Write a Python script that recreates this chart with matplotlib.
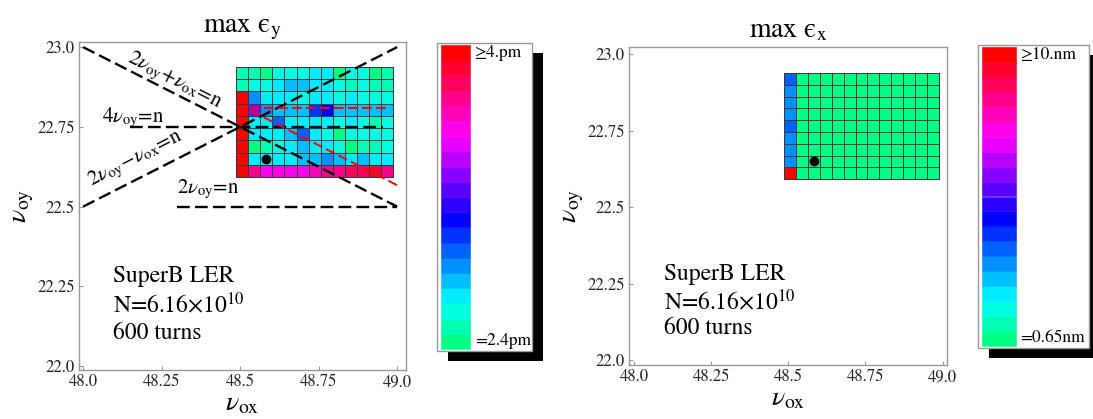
import numpy as np
import matplotlib
matplotlib.use("Agg")
import matplotlib.pyplot as plt
import matplotlib.colors as mcolors
import matplotlib.patches as mpatches

plt.rcParams['font.family'] = ['STIXGeneral', 'DejaVu Serif']
plt.rcParams['mathtext.fontset'] = 'stix'

# tune scan grid (cell centres)
nux = [48.505, 48.544, 48.583, 48.622, 48.66, 48.699, 48.737,
       48.776, 48.814, 48.853, 48.891, 48.93, 48.968]
nuy = [22.919, 22.881, 22.842, 22.804, 22.765, 22.727, 22.688, 22.65, 22.611]

# colour level (0 = lowest bin, 19 = saturated) per cell, rows from top
eps_y_level = [
    [1, 1, 0, 2, 2, 2, 3, 3, 0, 2, 2, 0, 1],
    [1, 2, 2, 3, 4, 4, 3, 3, 2, 1, 2, 1, 1],
    [19, 5, 3, 3, 3, 2, 3, 3, 2, 3, 2, 2, 2],
    [19, 11, 5, 4, 4, 4, 7, 8, 4, 4, 4, 4, 4],
    [19, 3, 3, 6, 3, 3, 3, 3, 2, 3, 2, 1, 2],
    [19, 3, 3, 3, 4, 6, 3, 2, 0, 2, 2, 2, 2],
    [19, 0, 1, 2, 3, 4, 3, 3, 2, 0, 1, 1, 2],
    [19, 3, 3, 3, 3, 4, 4, 5, 4, 3, 4, 3, 3],
    [19, 16, 14, 14, 14, 14, 15, 16, 16, 17, 17, 18, 16],
]
eps_x_level = [
    [6] + [0] * 12,
    [5] + [0] * 12,
    [5] + [0] * 12,
    [5] + [0] * 12,
    [6] + [0] * 12,
    [5] + [0] * 12,
    [5] + [0] * 12,
    [5] + [0] * 12,
    [19] + [0] * 12,
]

work_point = (48.583, 22.65)

# resonance lines (nu_x, nu_y end points)
res_lines = {
    'sum': ([48.0, 49.0], [23.0, 22.5]),
    'diff': ([48.0, 49.0], [22.5, 23.0]),
    'fourth': ([48.15, 48.955], [22.75, 22.75]),
    'half': ([48.3, 49.0], [22.5, 22.5]),
}
red_lines = {
    'horiz': ([48.53, 48.975], [22.81, 22.81]),
    'diag': ([48.535, 49.01], [22.80, 22.562]),
}

info_lines = ['SuperB LER', r'N=6.16$\times$10$^{10}$', '600 turns']
info_y = [22.282, 22.192, 22.103]

n_levels = 20
hues = np.linspace(0.42, 1.0, n_levels)
level_colors = [mcolors.hsv_to_rgb((h, 1, 1)) for h in hues]
cmap = mcolors.ListedColormap(level_colors)
norm = mcolors.BoundaryNorm(np.arange(-0.5, n_levels + 0.5), n_levels)

W, H = 1093, 419
fig = plt.figure(figsize=(W / 100, H / 100), dpi=100)


def px_axes(x0, y0, x1, y1):
    return fig.add_axes([x0 / W, 1 - y1 / H, (x1 - x0) / W, (y1 - y0) / H])


def style_axes(ax, xlim, ylim):
    ax.set_xlim(*xlim)
    ax.set_ylim(*ylim)
    ax.set_xticks([48.0, 48.25, 48.5, 48.75, 49.0])
    ax.set_xticklabels(['48.0', '48.25', '48.5', '48.75', '49.0'])
    ax.set_yticks([22.0, 22.25, 22.5, 22.75, 23.0])
    ax.set_yticklabels(['22.0', '22.25', '22.5', '22.75', '23.0'])
    for s in ax.spines.values():
        s.set_color('#999999')
        s.set_linewidth(1.0)
    ax.tick_params(direction='in', length=3, width=0.8, color='#999999',
                   labelsize=12, labelcolor='#222222', pad=3)
    ax.set_xlabel(r'$\nu_{\rm ox}$', fontsize=20, labelpad=1)
    ax.set_ylabel(r'$\nu_{\rm oy}$', fontsize=20, labelpad=1)


def heatmap(ax, levels):
    ax.pcolormesh(nux, nuy, np.array(levels), cmap=cmap, norm=norm,
                  shading='nearest', edgecolors='#3a3a3a', linewidth=0.6)
    ax.plot(*work_point, 'o', color='black', ms=6, zorder=5)


def info(ax):
    for line, y in zip(info_lines, info_y):
        ax.text(48.096, y, line, fontsize=17, ha='left', va='center')


# ---- left panel: max eps_y
ax1 = px_axes(79, 42, 406, 370)
heatmap(ax1, eps_y_level)
dash_k = (0, (5.4, 2.2))
for key in ['sum', 'diff', 'fourth', 'half']:
    xs, ys = res_lines[key]
    ax1.plot(xs, ys, color='black', lw=1.7, linestyle=dash_k, zorder=4)
for key in ['horiz', 'diag']:
    xs, ys = red_lines[key]
    ax1.plot(xs, ys, color='red', lw=1.4, linestyle=(0, (5, 2.2)), zorder=4)
ax1.text(48.29, 22.893, r'$2\nu_{\rm oy}\!+\!\nu_{\rm ox}\!=\!$n', fontsize=15,
         rotation=-27, ha='center', va='center', rotation_mode='anchor')
ax1.text(48.06, 22.778, r'$4\nu_{\rm oy}$=n', fontsize=15, ha='left', va='center')
ax1.text(48.168, 22.65, r'$2\nu_{\rm oy}\!-\!\nu_{\rm ox}\!=\!$n', fontsize=15,
         rotation=27, ha='center', va='center', rotation_mode='anchor')
ax1.text(48.30, 22.553, r'$2\nu_{\rm oy}$=n', fontsize=15, ha='left', va='center')
info(ax1)
style_axes(ax1, (47.987, 49.028), (21.988, 23.016))
ax1.set_title('max ϵ$_{\\rm y}$', fontsize=20, pad=7)

# ---- right panel: max eps_x
ax2 = px_axes(629, 47, 947, 365)
heatmap(ax2, eps_x_level)
info(ax2)
style_axes(ax2, (47.984, 49.014), (21.984, 23.024))
ax2.set_title('max ϵ$_{\\rm x}$', fontsize=20, pad=7)

# ---- colour legends drawn in pixel space
ov = fig.add_axes([0, 0, 1, 1], zorder=-1)
ov.set_xlim(0, W)
ov.set_ylim(H, 0)
ov.axis('off')


def legend_bar(x0, y0, x1, y1, sw_x0, sw_x1, top_lab, bot_lab):
    ov.add_patch(mpatches.Rectangle((x0 + 11, y0 + 10), x1 - x0, y1 - y0,
                                    facecolor='black', edgecolor='none'))
    ov.add_patch(mpatches.Rectangle((x0, y0), x1 - x0, y1 - y0,
                                    facecolor='white', edgecolor='#999999', lw=1))
    sy0, sy1 = y0 + 2, y1 - 2
    h = (sy1 - sy0) / n_levels
    for i, c in enumerate(level_colors):
        ov.add_patch(mpatches.Rectangle((sw_x0, sy1 - (i + 1) * h), sw_x1 - sw_x0, h,
                                        facecolor=c, edgecolor=c, lw=0.4))
    ov.text(sw_x1 + 5, sy0 + h * 0.55, top_lab, fontsize=12.5, ha='left', va='center')
    ov.text(sw_x1 + 5, sy1 - h * 0.55, bot_lab, fontsize=12.5, ha='left', va='center')


legend_bar(437, 43, 531.5, 351, 440.5, 470, '≥4.pm', '=2.4pm')
legend_bar(978, 45, 1089, 348, 981.5, 1015.5, '≥10.nm', '=0.65nm')

fig.savefig('out.png', dpi=100)
